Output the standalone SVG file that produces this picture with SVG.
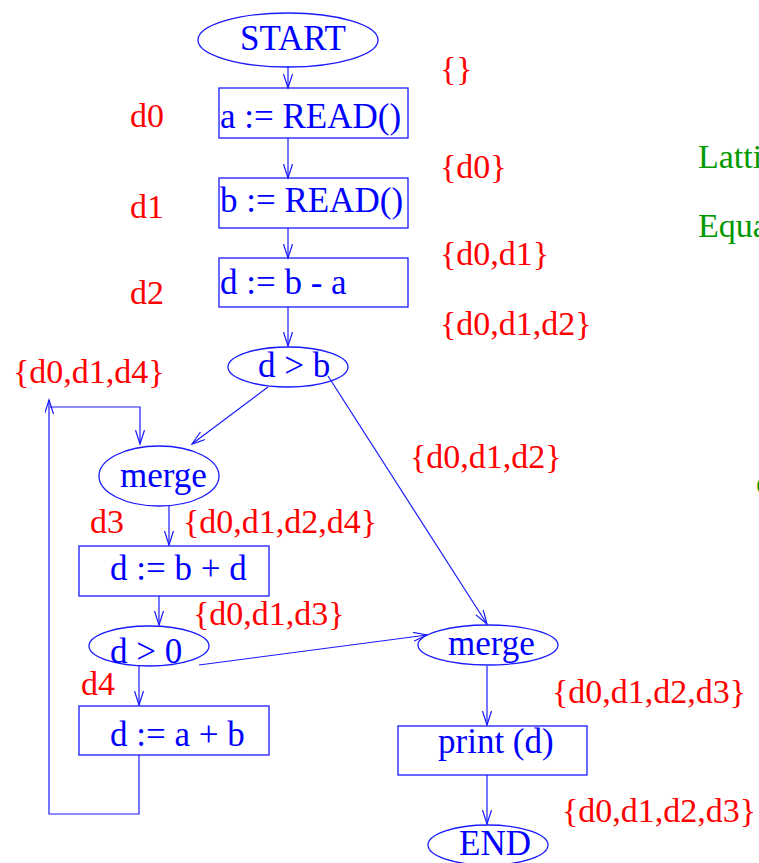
<svg xmlns="http://www.w3.org/2000/svg" width="759" height="863" viewBox="0 0 759 863">
<defs>
<marker id="ah" markerUnits="userSpaceOnUse" markerWidth="16" markerHeight="10" refX="14" refY="4.5" orient="auto">
<path d="M0,0 L14,4.5 L0,9" fill="none" stroke="#1a1aff" stroke-width="1.2"/>
</marker>
<style>
.n{fill:none;stroke:#1a1aff;stroke-width:1.3}
.t{font-family:"Liberation Serif",serif;font-size:35px;fill:#0000ff}
.r{font-family:"Liberation Serif",serif;font-size:34px;fill:#ff0000}
.g{font-family:"Liberation Serif",serif;font-size:34px;fill:#009900}
.e{fill:none;stroke:#1a1aff;stroke-width:1.2}
</style>
</defs>
<rect width="759" height="863" fill="#ffffff"/>
<g id="connectors">
<line class="e" x1="288" y1="66" x2="288" y2="88" marker-end="url(#ah)"/>
<line class="e" x1="288" y1="138" x2="288" y2="178" marker-end="url(#ah)"/>
<line class="e" x1="288" y1="228" x2="288" y2="258" marker-end="url(#ah)"/>
<line class="e" x1="288" y1="307" x2="288" y2="346" marker-end="url(#ah)"/>
<line class="e" x1="268" y1="387" x2="192" y2="444" marker-end="url(#ah)"/>
<line class="e" x1="328" y1="376" x2="487" y2="624" marker-end="url(#ah)"/>
<line class="e" x1="169" y1="506" x2="169" y2="545" marker-end="url(#ah)"/>
<line class="e" x1="159" y1="596" x2="159" y2="625" marker-end="url(#ah)"/>
<line class="e" x1="139" y1="666" x2="139" y2="705" marker-end="url(#ah)"/>
<line class="e" x1="199" y1="665" x2="427" y2="635" marker-end="url(#ah)"/>
<polyline class="e" points="139,755 139,814 49,814 49,400" marker-end="url(#ah)"/>
<polyline class="e" points="50,407 140,407 140,444" marker-end="url(#ah)"/>
<line class="e" x1="487" y1="666" x2="487" y2="725" marker-end="url(#ah)"/>
<line class="e" x1="487" y1="775" x2="487" y2="824" marker-end="url(#ah)"/>
</g>
<g id="start"><ellipse class="n" cx="288" cy="40" rx="90" ry="27"/><text class="t" x="240" y="50">START</text></g>
<g id="read_a"><rect class="n" x="219" y="88" width="189" height="50"/><text class="t" x="220" y="128">a := READ()</text></g>
<g id="read_b"><rect class="n" x="219" y="178" width="189" height="50"/><text class="t" x="220" y="212">b := READ()</text></g>
<g id="d_ba"><rect class="n" x="219" y="258" width="189" height="49"/><text class="t" x="220" y="294">d := b - a</text></g>
<g id="cond_db"><ellipse class="n" cx="288" cy="367" rx="60" ry="20"/><text class="t" x="258" y="377">d &gt; b</text></g>
<g id="merge1"><ellipse class="n" cx="159" cy="476" rx="60" ry="30"/><text class="t" x="120" y="487">merge</text></g>
<g id="d_bd"><rect class="n" x="79" y="546" width="190" height="50"/><text class="t" x="110" y="580">d := b + d</text></g>
<g id="cond_d0"><ellipse class="n" cx="149" cy="646" rx="60" ry="20"/><text class="t" x="110" y="663">d &gt; 0</text></g>
<g id="d_ab"><rect class="n" x="79" y="706" width="190" height="49"/><text class="t" x="110" y="746">d := a + b</text></g>
<g id="merge2"><ellipse class="n" cx="488" cy="645" rx="70" ry="20"/><text class="t" x="448" y="655">merge</text></g>
<g id="print"><rect class="n" x="398" y="726" width="189" height="49"/><text class="t" x="438" y="753">print (d)</text></g>
<g id="end"><ellipse class="n" cx="488" cy="845" rx="60" ry="20"/><text class="t" x="459" y="855">END</text></g>
<g id="labels">
<text class="r" x="130" y="127">d0</text>
<text class="r" x="130" y="218">d1</text>
<text class="r" x="130" y="304">d2</text>
<text class="r" x="90" y="533">d3</text>
<text class="r" x="81" y="695">d4</text>
<text class="r" x="440" y="80">{}</text>
<text class="r" x="440" y="178">{d0}</text>
<text class="r" x="440" y="265">{d0,d1}</text>
<text class="r" x="440" y="335">{d0,d1,d2}</text>
<text class="r" x="13" y="383">{d0,d1,d4}</text>
<text class="r" x="410" y="468">{d0,d1,d2}</text>
<text class="r" x="183" y="533">{d0,d1,d2,d4}</text>
<text class="r" x="193" y="625">{d0,d1,d3}</text>
<text class="r" x="552" y="703">{d0,d1,d2,d3}</text>
<text class="r" x="562" y="822">{d0,d1,d2,d3}</text>
<text class="g" x="698" y="168">Lattice</text>
<text class="g" x="698" y="237">Equations</text>
<text class="g" x="756" y="494">o</text>
</g>
</svg>
